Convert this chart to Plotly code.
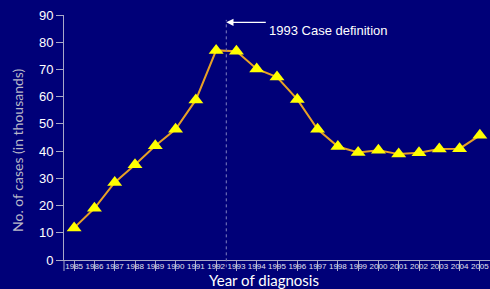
import plotly.graph_objects as go

years = [str(y) for y in range(1985, 2006)]
cases = [11.8, 19.0, 28.5, 35.0, 42.0, 48.0, 58.8, 77.0, 76.7, 70.2, 67.2, 59.0,
         48.0, 41.7, 39.5, 40.3, 38.9, 39.4, 40.8, 40.9, 45.8]
y_ticks = list(range(0, 100, 10))
marker_year = 1992.5
annotation_text = "1993 Case definition"

bg = "#000078"
fig = go.Figure()
fig.add_trace(go.Scatter(
    x=list(range(len(years))), y=cases, mode="lines+markers",
    line=dict(color="#E8A025", width=2),
    marker=dict(symbol="triangle-up", size=13, color="#FFFF00",
                line=dict(width=0)),
    hoverinfo="skip", showlegend=False, cliponaxis=False,
))

xpos = marker_year - 1985
fig.add_shape(type="line", xref="x", yref="paper", x0=xpos, x1=xpos,
              y0=-0.03, y1=0.98, line=dict(color="#8080C0", width=1, dash="dot"))
fig.add_shape(type="line", xref="paper", yref="paper", x0=0, x1=0,
              y0=-0.045, y1=0, line=dict(color="#A8A8C8", width=1))

fig.add_annotation(x=xpos, y=0.97, xref="x", yref="paper",
                   ax=41, ay=0, axref="pixel", ayref="pixel",
                   text="", showarrow=True, arrowhead=2, arrowsize=1.2,
                   arrowwidth=1.2, arrowcolor="white")
fig.add_annotation(x=xpos + 2.0, y=0.975, xref="x", yref="paper",
                   text=annotation_text, showarrow=False, xanchor="left",
                   font=dict(family="Liberation Sans", size=13, color="white"))
fig.add_annotation(x=-46/426, y=0.449, xref="paper", yref="paper",
                   text="No. of cases (in thousands)", textangle=-90,
                   showarrow=False, xanchor="center", yanchor="middle",
                   font=dict(family="Lato", size=14, color="#B8B8C8"))
fig.add_annotation(x=0.469, y=-20/245, xref="paper", yref="paper",
                   text="Year of diagnosis", showarrow=False,
                   xanchor="center", yanchor="middle",
                   font=dict(family="Lato", size=15, color="white"))

fig.update_layout(
    width=490, height=289,
    margin=dict(l=64, r=0, t=15, b=29, autoexpand=False),
    paper_bgcolor=bg, plot_bgcolor=bg,
    xaxis=dict(
        tickmode="array", tickvals=list(range(len(years))), ticktext=years,
        range=[-0.5, len(years) - 0.5], automargin=False, tickangle=0,
        showgrid=False, zeroline=False,
        showline=True, linecolor="#A8A8C8", linewidth=1,
        ticks="outside", ticklen=10, tickcolor="#A8A8C8", tickwidth=1,
        tickson="boundaries", ticklabelstandoff=-12,
        tickfont=dict(family="Liberation Sans", size=8, color="#E0E0F0"),
    ),
    yaxis=dict(
        range=[0, 90], tickvals=y_ticks, automargin=False,
        showgrid=False, zeroline=False,
        showline=True, linecolor="#A8A8C8", linewidth=1,
        ticks="outside", ticklen=7, tickcolor="#A8A8C8",
        tickfont=dict(family="Liberation Sans", size=13, color="white"),
    ),
)

fig.write_html("out.html", config={"displayModeBar": False},
               post_script="document.body.style.margin='0';document.body.style.background='%s';" % bg)
